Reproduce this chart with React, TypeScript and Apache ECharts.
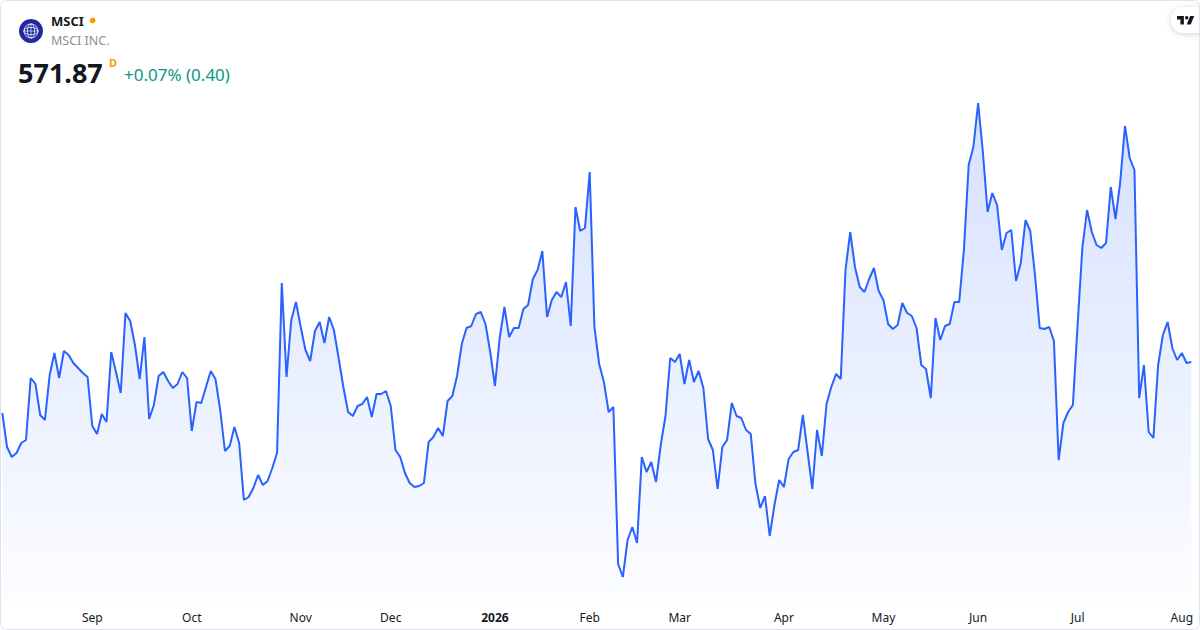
import React, { useEffect, useRef } from "react";
import * as echarts from "echarts";

// ---------- data ----------
const START_DATE = "2025-08-05";
const MARKET_HOLIDAYS = [
  "2025-09-01", "2025-11-27", "2025-12-25", "2026-01-01", "2026-01-19",
  "2026-02-16", "2026-04-03", "2026-05-25", "2026-06-19", "2026-07-03",
];
const MONTH_NAMES = ["Jan", "Feb", "Mar", "Apr", "May", "Jun", "Jul", "Aug", "Sep", "Oct", "Nov", "Dec"];

const PRICES_2025 = [
  551.47, 537.87, 533.87, 535.47, 539.47, 540.67, 565.47, 563.07, 550.67, 548.67,
  566.67, 575.47, 565.47, 576.27, 574.67, 571.47, 569.47, 567.47, 565.87, 546.27,
  543.07, 551.07, 547.87, 575.87, 567.87, 559.47, 591.47, 588.27, 578.67, 565.07,
  581.87, 549.07, 554.67, 566.27, 567.87, 564.27, 561.47, 563.07, 567.87, 565.47,
  544.27, 555.87, 555.47, 561.87, 568.27, 565.07, 552.67, 536.27, 538.27, 545.87,
  539.47, 516.67, 517.87, 521.47, 526.67, 522.67, 524.27, 529.47, 535.47, 603.47,
  565.87, 588.67, 595.87,
  585.87, 576.67, 572.27, 584.27, 587.87, 579.47, 589.87, 584.67, 573.47, 561.87,
  551.87, 550.27, 554.27, 555.07, 557.87, 549.87, 559.07, 559.07, 560.27, 554.27,
  536.67, 533.87, 527.47, 523.47, 521.87, 522.27, 523.47, 539.87, 541.87, 545.47,
  542.27, 556.27, 558.27, 566.27, 579.07, 585.47, 586.27, 591.07, 591.87, 587.07,
  575.87,
];

const PRICES_2026 = [
  562.27, 581.47, 593.87, 581.87, 585.47, 585.47, 593.07, 594.67, 605.07, 608.67,
  616.27, 589.87, 596.67, 599.87, 597.87, 603.87, 586.27, 633.87, 624.27, 625.47,
  647.87, 585.87, 571.07, 563.87, 551.87, 553.87, 491.07, 485.87, 500.67, 505.87,
  499.47, 533.87, 527.87, 531.87, 523.87, 538.67, 550.27, 573.47, 571.87, 575.07,
  563.07, 572.67, 563.87, 568.27, 561.47, 541.07, 536.67, 521.07, 537.87, 540.67,
  555.47, 550.27, 549.47, 544.67, 543.07, 523.07, 513.47, 518.27, 502.27, 514.67,
  524.67, 521.87, 533.07, 535.87, 536.67, 550.67, 535.87, 521.07, 544.67, 534.27,
  555.07, 561.87, 567.07, 565.07, 608.67, 623.87, 609.87, 601.87, 599.87, 605.07,
  609.47, 600.27, 596.67, 587.07, 585.07, 586.67, 595.47, 591.47, 590.27, 585.47,
  570.67, 569.07, 557.47, 589.47, 580.67, 586.27, 587.07, 595.87, 595.87, 616.67,
  650.67, 657.87, 675.47, 655.87, 631.87, 639.47, 634.67, 616.67, 623.47, 624.67,
  604.27, 611.47, 628.67, 624.27, 606.67, 585.47, 585.07, 585.87, 580.27, 532.67,
  547.47, 551.87, 554.67, 586.67, 617.47, 632.67, 623.87, 618.67, 617.47, 619.47,
  641.87, 629.07, 643.87, 666.27, 653.47, 648.67, 557.47, 570.67, 543.87, 541.47,
  570.67, 582.67, 587.87, 577.47, 572.67, 575.47, 571.47, 571.87,
];

const PRICES = [...PRICES_2025, ...PRICES_2026];

const TICKER = "MSCI";
const COMPANY = "MSCI INC.";
const LAST_PRICE = "571.87";
const CHANGE_TEXT = "+0.07% (0.40)";

function buildTradingDays(start: string, count: number, holidays: string[]) {
  const out: string[] = [];
  const hol = new Set(holidays);
  const d = new Date(start + "T00:00:00Z");
  while (out.length < count) {
    const wd = d.getUTCDay();
    const s = d.toISOString().slice(0, 10);
    if (wd !== 0 && wd !== 6 && !hol.has(s)) out.push(s);
    d.setUTCDate(d.getUTCDate() + 1);
  }
  return out;
}

const FONT = "'Noto Sans', 'Open Sans', sans-serif";

export default function App() {
  const ref = useRef<HTMLDivElement>(null);

  useEffect(() => {
    if (!ref.current) return;
    const TvPath = echarts.graphic.extendPath(
      "M14 6H2V12H8V21H14V6Z M26 21H19L25 6H32L26 21Z",
      {}
    );
    echarts.graphic.registerShape("tvlogo", TvPath as any);

    const chart = echarts.init(ref.current, undefined, { renderer: "svg" });
    const dates = buildTradingDays(START_DATE, PRICES.length, MARKET_HOLIDAYS);
    const monthStarts = new Set<number>();
    for (let i = 1; i < dates.length; i++) {
      if (dates[i].slice(5, 7) !== dates[i - 1].slice(5, 7)) monthStarts.add(i);
    }

    chart.setOption({
      animation: false,
      backgroundColor: "#ffffff",
      grid: { left: 2.3, right: 8.7, top: 80, bottom: 29 },
      xAxis: {
        type: "category",
        data: dates,
        boundaryGap: false,
        axisLine: { show: false },
        axisTick: { show: false },
        splitLine: { show: false },
        axisLabel: {
          interval: (i: number) => monthStarts.has(i),
          hideOverlap: false,
          margin: 16,
          verticalAlign: "middle",
          color: "#131722",
          fontSize: 12,
          fontFamily: FONT,
          formatter: (v: string) => {
            const m = parseInt(v.slice(5, 7), 10) - 1;
            if (m === 0) return "{y|" + v.slice(0, 4) + "}";
            return MONTH_NAMES[m];
          },
          rich: {
            y: { fontWeight: "bold", fontSize: 12, color: "#131722", fontFamily: FONT },
          },
        },
      },
      yAxis: { type: "value", min: 476.27, max: 684.67, show: false },
      series: [
        {
          type: "line",
          data: PRICES,
          symbol: "none",
          showSymbol: false,
          lineStyle: { color: "#2962ff", width: 2 },
          areaStyle: {
            color: new echarts.graphic.LinearGradient(0, 0, 0, 1, [
              { offset: 0, color: "rgba(41,98,255,0.28)" },
              { offset: 1, color: "rgba(41,98,255,0.02)" },
            ]),
          },
        },
      ],
      graphic: [
        {
          type: "rect",
          silent: true,
          z: 100,
          shape: { x: 0.5, y: 0.5, width: 1199, height: 629, r: 6 },
          style: { fill: "none", stroke: "#e0e3eb", lineWidth: 1 },
        },
        // company logo
        { type: "circle", shape: { cx: 31, cy: 31, r: 12 }, style: { fill: "#1f2a9c" } },
        { type: "circle", shape: { cx: 31, cy: 31, r: 7 }, style: { fill: "none", stroke: "#ffffff", lineWidth: 0.8 } },
        { type: "ellipse", shape: { cx: 31, cy: 31, rx: 3.5, ry: 7 }, style: { fill: "none", stroke: "#ffffff", lineWidth: 0.8 } },
        { type: "ellipse", shape: { cx: 31, cy: 31, rx: 7, ry: 3.5 }, style: { fill: "none", stroke: "#ffffff", lineWidth: 0.8 } },
        { type: "line", shape: { x1: 24, y1: 31, x2: 38, y2: 31 }, style: { stroke: "#ffffff", lineWidth: 0.6 } },
        { type: "line", shape: { x1: 31, y1: 24, x2: 31, y2: 38 }, style: { stroke: "#ffffff", lineWidth: 0.6 } },
        // header texts
        {
          type: "text", x: 51, y: 21,
          style: { text: TICKER, fontSize: 13, fontWeight: "bold", fontFamily: FONT, fill: "#131722", verticalAlign: "middle" },
        },
        { type: "circle", shape: { cx: 92.7, cy: 20.5, r: 2.8 }, style: { fill: "#ff9800" } },
        {
          type: "text", x: 51, y: 40.5,
          style: { text: COMPANY, fontSize: 12.5, fontFamily: FONT, fill: "#8c8f99", verticalAlign: "middle" },
        },
        {
          type: "text", x: 18, y: 72,
          style: { text: LAST_PRICE, fontSize: 27, fontWeight: "bold", fontFamily: FONT, fill: "#131722", verticalAlign: "middle" },
        },
        {
          type: "text", x: 109, y: 62,
          style: { text: "D", fontSize: 11, fontWeight: "bold", fontFamily: FONT, fill: "#ff9800", verticalAlign: "middle" },
        },
        {
          type: "text", x: 124, y: 74.5,
          style: { text: CHANGE_TEXT, fontSize: 17, fontFamily: FONT, fill: "#089981", verticalAlign: "middle" },
        },
        // TradingView badge
        {
          type: "rect",
          shape: { x: 1171, y: 7, width: 44, height: 26, r: 13 },
          style: { fill: "#ffffff", shadowBlur: 6, shadowColor: "rgba(0,0,0,0.18)", shadowOffsetY: 1 },
        },
        {
          type: "tvlogo",
          x: 1175.9, y: 12.6, scaleX: 0.57, scaleY: 0.57,
          style: { fill: "#131722" },
        },
        { type: "circle", shape: { cx: 1186.7, cy: 17.7, r: 1.7 }, style: { fill: "#131722" } },
      ],
    });

    return () => chart.dispose();
  }, []);

  return (
    <div
      ref={ref}
      style={{ position: "fixed", left: 0, top: 0, width: 1200, height: 630, background: "#ffffff" }}
    />
  );
}
